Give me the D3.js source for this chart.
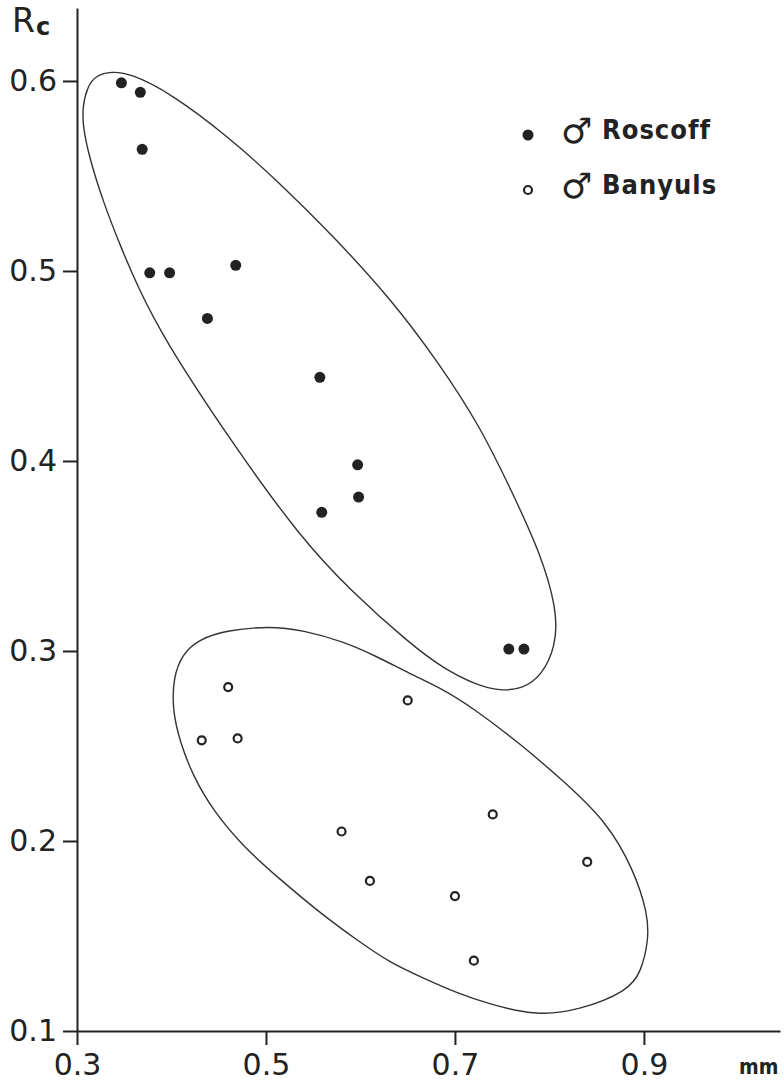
<!DOCTYPE html>
<html>
<head>
<meta charset="utf-8">
<script src="https://cdn.jsdelivr.net/npm/d3@7"></script>
<style>
  body { margin: 0; background: #fff; }
  .canvas svg { display: block; }
  text { fill: #222; }
</style>
</head>
<body>
<div class="canvas"></div>
<script>
// tick labels
const xTicks = [0.3, 0.5, 0.7, 0.9];
const yTicks = [0.1, 0.2, 0.3, 0.4, 0.5, 0.6];

// Roscoff males (filled)
const roscoffX = [0.347, 0.367, 0.369, 0.377, 0.398, 0.468, 0.438, 0.557, 0.597, 0.598, 0.559, 0.757, 0.773];
const roscoffY = [0.599, 0.594, 0.564, 0.499, 0.499, 0.503, 0.475, 0.444, 0.398, 0.381, 0.373, 0.301, 0.301];

// Banyuls males (open)
const banyulsX = [0.460, 0.432, 0.470, 0.650, 0.580, 0.610, 0.700, 0.740, 0.840, 0.720];
const banyulsY = [0.281, 0.253, 0.254, 0.274, 0.205, 0.179, 0.171, 0.214, 0.189, 0.137];

// hand drawn envelopes round each group
const roscoffHullX = [0.337, 0.356, 0.398, 0.462, 0.515, 0.568, 0.631, 0.681, 0.727, 0.761, 0.790, 0.808, 0.807, 0.792, 0.771, 0.748, 0.723, 0.687, 0.652, 0.589, 0.536, 0.462, 0.391, 0.364, 0.346, 0.328, 0.314, 0.306, 0.306, 0.311, 0.320];
const roscoffHullY = [0.605, 0.604, 0.594, 0.570, 0.546, 0.520, 0.486, 0.453, 0.418, 0.383, 0.352, 0.322, 0.303, 0.287, 0.280, 0.279, 0.282, 0.291, 0.304, 0.332, 0.360, 0.411, 0.465, 0.492, 0.513, 0.536, 0.558, 0.576, 0.587, 0.597, 0.603];
const banyulsHullX = [0.411, 0.428, 0.459, 0.504, 0.539, 0.582, 0.618, 0.652, 0.687, 0.719, 0.767, 0.814, 0.861, 0.889, 0.904, 0.905, 0.897, 0.883, 0.832, 0.787, 0.737, 0.702, 0.666, 0.631, 0.596, 0.560, 0.512, 0.476, 0.444, 0.423, 0.409, 0.401, 0.402];
const banyulsHullY = [0.298, 0.306, 0.311, 0.313, 0.311, 0.305, 0.297, 0.288, 0.280, 0.270, 0.252, 0.232, 0.210, 0.185, 0.162, 0.148, 0.131, 0.121, 0.111, 0.108, 0.114, 0.120, 0.128, 0.136, 0.148, 0.161, 0.181, 0.197, 0.216, 0.234, 0.252, 0.269, 0.286];

const dims = { width: 784, height: 1084 };
const font = '"DejaVu Sans", sans-serif';
const condensed = '"DejaVu Sans Condensed", "DejaVu Sans", sans-serif';
const ink = '#222';

const svg = d3.select('.canvas')
    .append('svg')
    .attr('width', dims.width)
    .attr('height', dims.height);

// scales - domains run out to where the drawn axis lines stop
const x = d3.scaleLinear().domain([0.3, 1.044]).range([77, 780]);
const y = d3.scaleLinear().domain([0.1, 0.6384]).range([1031, 8]);

const fmt = d3.format('.1f');

// x axis
const xAxis = svg.append('g')
    .attr('transform', `translate(0, ${y(0.1)})`)
    .call(d3.axisBottom(x).tickValues(xTicks).tickFormat(fmt).tickSize(14).tickSizeOuter(0).tickPadding(9));

// y axis
const yAxis = svg.append('g')
    .attr('transform', `translate(${x(0.3)}, 0)`)
    .call(d3.axisLeft(y).tickValues(yTicks).tickFormat(fmt).tickSize(14).tickSizeOuter(0).tickPadding(6));

[xAxis, yAxis].forEach(g => {
    g.select('.domain').attr('stroke', ink).attr('stroke-width', 2);
    g.selectAll('.tick line').attr('stroke', ink).attr('stroke-width', 2);
    g.selectAll('.tick text')
        .attr('fill', ink)
        .style('font-family', font)
        .style('font-size', '30px');
});
xAxis.selectAll('.tick text').attr('dy', '0.71em');

// axis titles
const rc = svg.append('text')
    .attr('x', 12)
    .attr('y', 32)
    .style('font-family', font)
    .style('font-size', '33px');
rc.append('tspan').text('R');
rc.append('tspan').attr('dx', 1).attr('dy', 3).style('font-size', '24px').style('font-weight', 'bold').text('c');

svg.append('text')
    .attr('x', 739)
    .attr('y', 1074)
    .style('font-family', condensed)
    .style('font-weight', 'bold')
    .style('font-size', '21px')
    .text('mm');

// envelopes
const hull = d3.line()
    .x(d => x(d[0]))
    .y(d => y(d[1]))
    .curve(d3.curveBasisClosed);

svg.append('path')
    .attr('d', hull(d3.zip(roscoffHullX, roscoffHullY)))
    .attr('fill', 'none')
    .attr('stroke', '#333')
    .attr('stroke-width', 1.4);

svg.append('path')
    .attr('d', hull(d3.zip(banyulsHullX, banyulsHullY)))
    .attr('fill', 'none')
    .attr('stroke', '#333')
    .attr('stroke-width', 1.4);

// points
svg.append('g').selectAll('circle')
    .data(d3.zip(roscoffX, roscoffY))
    .enter()
    .append('circle')
        .attr('cx', d => x(d[0]))
        .attr('cy', d => y(d[1]))
        .attr('r', 5.5)
        .attr('fill', ink);

svg.append('g').selectAll('circle')
    .data(d3.zip(banyulsX, banyulsY))
    .enter()
    .append('circle')
        .attr('cx', d => x(d[0]))
        .attr('cy', d => y(d[1]))
        .attr('r', 4)
        .attr('fill', '#fff')
        .attr('stroke', ink)
        .attr('stroke-width', 2.2);

// legend
const legend = [
    { name: 'Roscoff', filled: true, cy: 135 },
    { name: 'Banyuls', filled: false, cy: 190 }
];

const items = svg.append('g').selectAll('g')
    .data(legend)
    .enter()
    .append('g')
        .attr('transform', d => `translate(0, ${d.cy})`);

items.append('circle')
    .attr('cx', 528)
    .attr('r', d => d.filled ? 5.5 : 4)
    .attr('fill', d => d.filled ? ink : '#fff')
    .attr('stroke', d => d.filled ? 'none' : ink)
    .attr('stroke-width', 2.2);

items.append('text')
    .attr('x', 561)
    .attr('y', 8)
    .style('font-family', font)
    .style('font-size', '35px')
    .text('\u2642');

items.append('text')
    .attr('x', 602)
    .attr('y', 4)
    .style('font-family', condensed)
    .style('font-weight', 'bold')
    .style('font-size', '27px')
    .style('letter-spacing', '1px')
    .text(d => d.name);
</script>
</body>
</html>
